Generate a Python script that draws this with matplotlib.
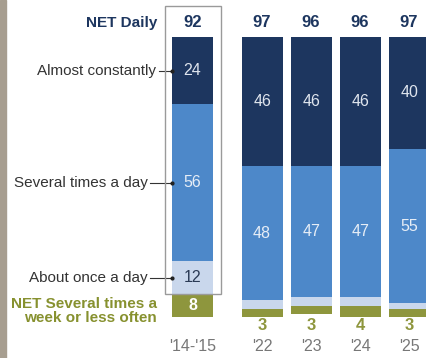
import matplotlib.pyplot as plt
from matplotlib.patches import Rectangle

plt.rcParams['font.family'] = ['Liberation Sans', 'DejaVu Sans']

# Dados
anos = ["'14-'15", "'22", "'23", "'24", "'25"]
quase_sempre = [24, 46, 46, 46, 40]
varias_vezes = [56, 48, 47, 47, 55]
uma_vez = [12, 3, 3, 3, 2]
semanal = [8, 3, 3, 4, 3]
net_diario = [92, 97, 96, 96, 97]

pos_x = [0, 1.42, 2.42, 3.42, 4.42]
largura = 0.837

azul_escuro = '#1d365f'
azul_medio = '#4d88c9'
azul_claro = '#c9d7ec'
oliva = '#8e963d'

fig = plt.figure(figsize=(4.27, 3.58), dpi=100)
ax = fig.add_axes([0, 0, 1, 1])
ax.set_xlim(-3.929, 4.786)
ax.set_ylim(114.64, -13.21)
ax.axis('off')

# Faixa à esquerda
fig.patches.append(Rectangle((0, 0), 6 / 427, 1, transform=fig.transFigure,
                             color='#a79e90', zorder=0))

# Barras empilhadas (de cima para baixo)
base = [0] * len(anos)
for valores, cor in [(quase_sempre, azul_escuro), (varias_vezes, azul_medio),
                     (uma_vez, azul_claro), (semanal, oliva)]:
    ax.bar(pos_x, valores, largura, bottom=base, color=cor, linewidth=0)
    base = [b + v for b, v in zip(base, valores)]

# Valores dentro das barras
for i, x in enumerate(pos_x):
    ax.text(x, quase_sempre[i] / 2, str(quase_sempre[i]), ha='center', va='center',
            color='#dfe5ee', fontsize=11.5)
    ax.text(x, quase_sempre[i] + varias_vezes[i] / 2, str(varias_vezes[i]),
            ha='center', va='center', color='#e6edf6', fontsize=11.5)
    ax.text(x, -5, str(net_diario[i]), ha='center', va='center',
            color=azul_escuro, fontsize=12, fontweight='bold')
    ax.text(x, 110.7, anos[i], ha='center', va='center', color='#777777', fontsize=11.5)
    if i == 0:
        ax.text(x, quase_sempre[0] + varias_vezes[0] + uma_vez[0] / 2, str(uma_vez[0]),
                ha='center', va='center', color='#2a3a55', fontsize=11.5)
        ax.text(x, net_diario[0] + semanal[0] / 2, str(semanal[0]),
                ha='center', va='center', color='white', fontsize=11.5, fontweight='bold')
    else:
        ax.text(x, 103.2, str(semanal[i]), ha='center', va='center',
                color=oliva, fontsize=12, fontweight='bold')

# Caixa em volta da primeira coluna
ax.add_patch(Rectangle((-0.561, -11.07), 1.143, 102.9, fill=False,
                       edgecolor='#9a9a9a', linewidth=1, zorder=5))

# Rótulos à esquerda
ax.text(-0.72, -5, 'NET Daily', ha='right', va='center', color=azul_escuro,
        fontsize=11, fontweight='bold')
rotulos = ['Almost constantly', 'Several times a day', 'About once a day']
centros = [quase_sempre[0] / 2,
           quase_sempre[0] + varias_vezes[0] / 2,
           quase_sempre[0] + varias_vezes[0] + uma_vez[0] / 2]
inicio_linha = [-0.68, -0.86, -0.86]
for rot, y, x0 in zip(rotulos, centros, inicio_linha):
    ax.text(x0 - 0.06, y, rot, ha='right', va='center', color='#333333', fontsize=11)
    ax.plot([x0, -0.41], [y, y], color='#333333', linewidth=0.8)
    ax.plot(-0.41, y, 'o', color='#222222', markersize=2)

ax.text(-0.72, 97.8, 'NET Several times a\nweek or less often', ha='right', va='center',
        color='#87912f', fontsize=11, fontweight='bold', linespacing=1.05)

fig.savefig('out.png', dpi=100)
